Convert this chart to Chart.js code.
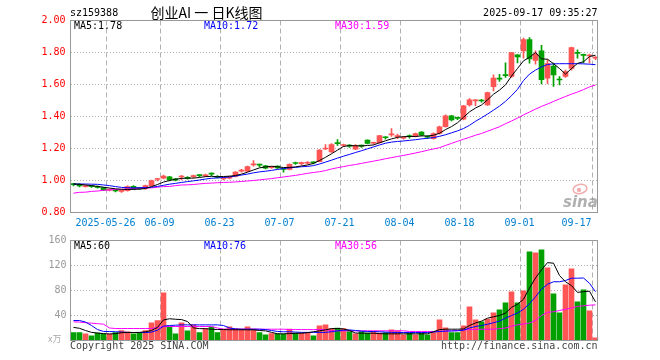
<!DOCTYPE html>
<html><head><meta charset="utf-8">
<script src="https://cdn.jsdelivr.net/npm/chart.js@4/dist/chart.umd.min.js"></script>
<style>
html,body{margin:0;padding:0;background:#fff;width:660px;height:360px;overflow:hidden}
#c1{position:absolute;left:0;top:0}
#c2{position:absolute;left:0;top:230px}
</style></head><body>
<canvas id="c1" width="660" height="230"></canvas>
<canvas id="c2" width="660" height="130"></canvas>
<script>
// ---------- data ----------
const dates = [
'2025-05-16','2025-05-19','2025-05-20','2025-05-21','2025-05-22','2025-05-23',
'2025-05-26','2025-05-27','2025-05-28','2025-05-29','2025-05-30',
'2025-06-03','2025-06-04','2025-06-05','2025-06-06',
'2025-06-09','2025-06-10','2025-06-11','2025-06-12','2025-06-13',
'2025-06-16','2025-06-17','2025-06-18','2025-06-19','2025-06-20',
'2025-06-23','2025-06-24','2025-06-25','2025-06-26','2025-06-27',
'2025-06-30','2025-07-01','2025-07-02','2025-07-03','2025-07-04',
'2025-07-07','2025-07-08','2025-07-09','2025-07-10','2025-07-11',
'2025-07-14','2025-07-15','2025-07-16','2025-07-17','2025-07-18',
'2025-07-21','2025-07-22','2025-07-23','2025-07-24','2025-07-25',
'2025-07-28','2025-07-29','2025-07-30','2025-07-31','2025-08-01',
'2025-08-04','2025-08-05','2025-08-06','2025-08-07','2025-08-08',
'2025-08-11','2025-08-12','2025-08-13','2025-08-14','2025-08-15',
'2025-08-18','2025-08-19','2025-08-20','2025-08-21','2025-08-22',
'2025-08-25','2025-08-26','2025-08-27','2025-08-28','2025-08-29',
'2025-09-01','2025-09-02','2025-09-03','2025-09-04','2025-09-05',
'2025-09-08','2025-09-09','2025-09-10','2025-09-11','2025-09-12',
'2025-09-15','2025-09-16','2025-09-17'];

const xTickDates  = ['2025-05-26','2025-06-09','2025-06-23','2025-07-07','2025-07-21','2025-08-04','2025-08-18','2025-09-01','2025-09-17'];
const xTickLabels = ['2025-05-26','06-09','06-23','07-07','07-21','08-04','08-18','09-01','09-17'];

const openP = [
.976,.975,.962,.964,.962,.955,.940,.937,.932,.937,
.963,.953,.952,.968,1.006,1.014,1.023,1.010,1.022,1.020,
1.024,1.032,1.028,1.043,1.026,1.010,1.014,1.025,1.059,1.058,
1.098,1.099,1.091,1.080,1.090,1.072,1.070,1.108,1.105,1.108,
1.113,1.118,1.197,1.179,1.233,1.219,1.218,1.196,1.218,1.252,
1.233,1.237,1.270,1.285,1.274,1.264,1.278,1.276,1.302,1.274,
1.262,1.295,1.337,1.404,1.392,1.383,1.473,1.498,1.500,1.473,
1.587,1.637,1.660,1.650,1.785,1.810,1.880,1.750,1.810,1.640,
1.715,1.632,1.650,1.700,1.800,1.786,1.778,1.765];
const closeP = [
.974,.966,.968,.962,.956,.940,.942,.935,.934,.962,
.946,.951,.968,1.000,1.009,1.028,1.005,1.002,1.025,1.013,
1.031,1.030,1.036,1.040,1.020,1.013,1.025,1.052,1.063,1.087,
1.102,1.096,1.077,1.083,1.078,1.069,1.101,1.106,1.108,1.111,
1.110,1.190,1.200,1.225,1.230,1.222,1.215,1.220,1.215,1.231,
1.236,1.280,1.267,1.288,1.277,1.269,1.275,1.293,1.283,1.271,
1.293,1.335,1.404,1.378,1.388,1.467,1.504,1.502,1.497,1.550,
1.640,1.634,1.655,1.800,1.772,1.880,1.760,1.790,1.630,1.730,
1.660,1.628,1.680,1.830,1.795,1.782,1.782,1.769];
const highP = [
.982,.980,.972,.968,.966,.958,.947,.941,.938,.966,
.968,.957,.971,1.003,1.013,1.034,1.026,1.013,1.032,1.024,
1.034,1.036,1.040,1.048,1.030,1.018,1.028,1.055,1.070,1.090,
1.125,1.102,1.095,1.088,1.092,1.076,1.104,1.115,1.115,1.118,
1.117,1.193,1.225,1.230,1.255,1.228,1.224,1.224,1.222,1.254,
1.240,1.283,1.275,1.325,1.290,1.274,1.285,1.297,1.306,1.279,
1.298,1.340,1.410,1.408,1.397,1.470,1.512,1.506,1.507,1.553,
1.660,1.664,1.735,1.800,1.787,1.890,1.893,1.810,1.845,1.755,
1.734,1.650,1.690,1.834,1.817,1.790,1.790,1.775];
const lowP = [
.966,.960,.958,.956,.952,.936,.935,.928,.926,.934,
.942,.944,.945,.966,.998,1.010,.998,.998,1.003,1.008,
1.016,1.022,1.024,1.030,1.016,1.004,1.010,1.022,1.052,1.055,
1.090,1.085,1.072,1.075,1.074,1.052,1.066,1.100,1.098,1.102,
1.104,1.116,1.193,1.175,1.220,1.212,1.206,1.192,1.206,1.228,
1.226,1.234,1.258,1.275,1.262,1.258,1.265,1.272,1.278,1.262,
1.258,1.290,1.333,1.372,1.380,1.378,1.465,1.468,1.490,1.470,
1.560,1.620,1.645,1.645,1.735,1.765,1.734,1.727,1.604,1.605,
1.588,1.598,1.645,1.690,1.765,1.735,1.735,1.755];

const ma5 = [
.978,.976,.972,.968,.963,.958,.953,.948,.945,.944,
.945,.946,.950,.962,.975,.990,1.000,1.008,1.013,1.015,
1.015,1.019,1.024,1.026,1.024,1.025,1.027,1.031,1.040,1.052,
1.066,1.079,1.085,1.089,1.086,1.081,1.082,1.085,1.091,1.097,
1.107,1.125,1.145,1.167,1.190,1.213,1.218,1.217,1.216,1.219,
1.222,1.236,1.248,1.260,1.270,1.274,1.275,1.275,1.279,1.278,
1.283,1.295,1.318,1.337,1.361,1.395,1.429,1.453,1.472,1.504,
1.539,1.565,1.598,1.653,1.700,1.748,1.770,1.800,1.760,1.758,
1.730,1.700,1.665,1.700,1.732,1.742,1.775,1.783];
const ma10 = [
.978,.978,.978,.977,.976,.972,.968,.962,.957,.955,
.954,.954,.956,.958,.963,.970,.977,.982,.988,.993,
.998,1.003,1.009,1.014,1.016,1.019,1.022,1.028,1.034,1.040,
1.048,1.054,1.058,1.063,1.069,1.075,1.079,1.082,1.086,1.088,
1.093,1.103,1.115,1.127,1.140,1.152,1.163,1.175,1.186,1.198,
1.210,1.222,1.233,1.240,1.244,1.247,1.251,1.255,1.260,1.264,
1.268,1.276,1.286,1.298,1.310,1.325,1.345,1.370,1.392,1.415,
1.440,1.465,1.495,1.530,1.570,1.625,1.665,1.690,1.710,1.725,
1.729,1.730,1.730,1.730,1.730,1.729,1.727,1.724];
const ma30 = [
.921,.926,.927,.932,.934,.939,.941,.944,.945,.946,
.949,.952,.953,.954,.958,.962,.963,.968,.972,.973,
.975,.979,.982,.984,.986,.988,.989,.991,.994,.997,
1.000,1.004,1.008,1.012,1.017,1.022,1.027,1.032,1.038,1.045,
1.050,1.055,1.062,1.072,1.080,1.087,1.094,1.100,1.107,1.114,
1.121,1.128,1.136,1.143,1.150,1.157,1.164,1.172,1.180,1.189,
1.197,1.205,1.219,1.232,1.245,1.258,1.270,1.283,1.294,1.308,
1.322,1.336,1.355,1.372,1.390,1.410,1.428,1.446,1.463,1.478,
1.494,1.510,1.525,1.540,1.553,1.568,1.585,1.597];

const volume = [
12.8,12.8,10.7,7.5,11.7,10.1,10.1,12.8,16,13.9,
10.7,11.7,16,28.3,32,76.3,21.3,10.7,28.3,15.5,
25,12.8,19.2,21.3,12.8,18.1,21.9,19.2,18.1,21.9,
18.1,12.8,9.1,11.2,10.7,10.1,18.1,11.7,11.7,11.7,
7.5,23.5,25,19.2,19.7,19.2,14.4,10.7,14.4,11.7,
14.4,11.7,12.8,17.1,15.5,9.1,11.7,9.1,11.7,9.1,
12.8,33,20.3,12.8,12.8,23.5,53.9,33,29.9,34.1,
44.3,49,60.3,77.9,60.3,79.5,141.9,140.3,145,116.3,
74.7,44.3,89,114.7,61.9,81,47.5,4.3];
const volMa5 = [
21,19.5,16,13,12,11,10.5,11,12.5,12.8,
12.8,13,14,16,21,32.9,34.8,34,33.5,30.4,
20.2,19,19,18,17.6,17.5,17.2,17.2,17.2,17.1,
17.1,16,15.5,13,10.7,10.7,11,11.5,11.7,12.5,
14,15.5,17,19,19.2,18.5,16,12,11.7,11.7,
11.7,11,10.7,10.7,10.7,10.7,10.7,10.7,10.7,10.7,
14,17.5,18.1,18.1,18.1,18.5,24,28,31,35.7,
38,40,44,53,58,66,84,100,113,124.6,
123.7,104,94,87.8,77,78.2,78.8,61.9];
const volMa10 = [
32,32,29.5,24,17.5,14.5,14.4,14,13.5,13,
12.8,12.8,12.8,13.5,16.5,23,24,24.5,25,25,
25,25,25,25,25,24,20,18.5,18.1,18.1,
18.1,18.1,17.5,16,14.5,14,14,13.5,13,13,
13,13,13,14,15.5,16.5,17,16,15,14.5,
14.4,14,13.5,13,12.8,12.8,12.8,12.8,12.8,12.8,
13.5,14.4,15,15.3,15.5,16.5,20,22.4,24,26,
28.5,31,35.7,40,44,50,59,70,82,90,
94,94,96,99.7,99.7,100,91.5,78];
const volMa30 = [
29.9,29.5,28.5,27.7,27,26.1,20,19.2,19.2,19.2,
19.2,19.2,19.2,19.2,21,22.4,22.4,22.4,22.4,22.4,
22.4,22.4,22.4,22.4,20,18.1,18.1,18.1,18.1,18.1,
18.1,18.1,18.1,18.1,18.1,18.1,17.5,17.5,17.5,17.5,
17.5,17.5,17.5,15.5,15.5,15.5,15.5,15.5,15.5,15.5,
15.5,15.5,15.5,15.5,15.5,15.5,14.5,14.5,14.5,14.5,
14.5,14.5,15,15.5,16,17,17.5,17.8,18,18,
18.2,19,20,23,25,26.5,28,32,40,45,
46,48,50,52,54.5,55.5,56.5,57];

// ---------- styles ----------
const UP = '#ff5555', DOWN = '#00a000';
const MONO = 'DejaVu Sans Mono';
const GRID = '#b0b0b0';
const colors = closeP.map((c, i) => c >= openP[i] ? UP : DOWN);
const gridIdx = xTickDates.map(d => dates.indexOf(d));
Chart.defaults.font.family = MONO;
Chart.defaults.font.size = 10;

function xScale(showLabels, h) {
  return {
    type: 'category', offset: true,
    grid: { offset: true, drawTicks: false,
      color: c => gridIdx.includes(c.index) ? GRID : 'rgba(0,0,0,0)' },
    border: { display: false, dash: [5, 3] },
    ticks: { display: showLabels, autoSkip: false, maxRotation: 0, minRotation: 0,
      labelOffset: -4, padding: 5, color: '#0080d0', font: { family: MONO, size: 10 },
      callback: (v, i) => { const k = gridIdx.indexOf(i); if (k < 0) return '';
        return xTickLabels[k] + (i === dates.length - 1 ? '     ' : ''); } },
    afterFit: s => { s.height = h; }
  };
}

const textPlugin1 = {
  id: 'txt1',
  afterDraw(chart) {
    const ctx = chart.ctx;
    ctx.save();
    ctx.strokeStyle = '#999'; ctx.lineWidth = 1; ctx.setLineDash([]);
    ctx.strokeRect(70.5, 20.5, 527, 192);
    ctx.textBaseline = 'middle';
    ctx.font = '10px "' + MONO + '"';
    ctx.fillStyle = '#000'; ctx.textAlign = 'left';
    ctx.fillText('sz159388', 70, 13.5);
    ctx.textAlign = 'right';
    ctx.fillText('2025-09-17 09:35:27', 597.5, 13.5);
    ctx.textAlign = 'left';
    ctx.fillStyle = '#000'; ctx.fillText('MA5:1.78', 74, 26.5);
    ctx.fillStyle = '#0000ff'; ctx.fillText('MA10:1.72', 204, 26.5);
    ctx.fillStyle = '#ff00ff'; ctx.fillText('MA30:1.59', 335, 26.5);
    ctx.font = '14px "Noto Sans CJK SC"'; ctx.fillStyle = '#000'; ctx.textAlign = 'center';
    ctx.fillText('创业AI 一 日K线图', 206.5, 12.5);
    // sina watermark
    ctx.strokeStyle = 'rgba(235,140,140,0.7)'; ctx.lineWidth = 1.5;
    ctx.beginPath(); ctx.ellipse(580, 189, 7, 4.5, -0.2, 0, Math.PI * 2); ctx.stroke();
    ctx.fillStyle = 'rgba(235,140,140,0.7)';
    ctx.beginPath(); ctx.arc(579, 190, 2.2, 0, Math.PI * 2); ctx.fill();
    ctx.font = 'italic bold 15px "DejaVu Sans"'; ctx.fillStyle = 'rgba(150,150,150,0.75)';
    ctx.textAlign = 'left'; ctx.textBaseline = 'alphabetic';
    ctx.fillText('sina', 563, 207);
    ctx.restore();
  }
};
const textPlugin2 = {
  id: 'txt2',
  afterDraw(chart) {
    const ctx = chart.ctx;
    ctx.save();
    ctx.strokeStyle = '#999'; ctx.lineWidth = 1; ctx.setLineDash([]);
    ctx.strokeRect(70.5, 10.5, 527, 100);
    ctx.textBaseline = 'middle';
    ctx.font = '10px "' + MONO + '"';
    ctx.textAlign = 'left';
    ctx.fillStyle = '#000'; ctx.fillText('MA5:60', 74, 16.5);
    ctx.fillStyle = '#0000ff'; ctx.fillText('MA10:76', 204, 16.5);
    ctx.fillStyle = '#ff00ff'; ctx.fillText('MA30:56', 335, 16.5);
    ctx.fillStyle = '#444';
    ctx.fillText('Copyright 2025 SINA.COM', 70, 116);
    ctx.textAlign = 'right';
    ctx.fillText('http://finance.sina.com.cn', 597.5, 116);
    ctx.textAlign = 'left'; ctx.fillStyle = '#aaa';
    ctx.font = '9px "Noto Sans CJK SC"';
    ctx.fillText('x万', 48, 108.5);
    ctx.restore();
  }
};

function lineDs(data, color) {
  return { type: 'line', data, borderColor: color, borderWidth: 1, pointRadius: 0,
    tension: 0, order: 0, fill: false };
}

new Chart(document.getElementById('c1'), {
  type: 'bar',
  data: {
    labels: dates,
    datasets: [
      { data: lowP.map((l, i) => [l, highP[i]]), backgroundColor: colors, barThickness: 1,
        grouped: false, borderWidth: 0, order: 2 },
      { data: openP.map((o, i) => [Math.min(o, closeP[i]), Math.max(o, closeP[i])]),
        backgroundColor: colors, barThickness: 5, grouped: false, minBarLength: 1,
        borderWidth: 0, order: 1 },
      lineDs(ma5, '#000000'),
      lineDs(ma10, '#0000ff'),
      lineDs(ma30, '#ff00ff')
    ]
  },
  options: {
    responsive: false, animation: false, devicePixelRatio: 1,
    layout: { padding: { left: 0, right: 61.5, top: 20.5, bottom: 0 } },
    plugins: { legend: { display: false }, tooltip: { enabled: false } },
    scales: {
      x: xScale(true, 17.5),
      y: { min: 0.8, max: 2.0,
        ticks: { stepSize: 0.2, color: '#ff0000', padding: 5, font: { family: MONO, size: 10 },
          callback: v => Number(v).toFixed(2) },
        grid: { drawTicks: false,
          color: c => (c.tick && c.tick.value > 0.81 && c.tick.value < 1.99) ? GRID : 'rgba(0,0,0,0)' },
        border: { display: false, dash: [1, 2] },
        afterFit: s => { s.width = 70.5; } }
    }
  },
  plugins: [textPlugin1]
});

new Chart(document.getElementById('c2'), {
  type: 'bar',
  data: {
    labels: dates,
    datasets: [
      { data: volume, backgroundColor: colors, barThickness: 5, borderWidth: 0, order: 1 },
      lineDs(volMa5, '#000000'),
      lineDs(volMa10, '#0000ff'),
      lineDs(volMa30, '#ff00ff')
    ]
  },
  options: {
    responsive: false, animation: false, devicePixelRatio: 1,
    layout: { padding: { left: 0, right: 61.5, top: 10.5, bottom: 0 } },
    plugins: { legend: { display: false }, tooltip: { enabled: false } },
    scales: {
      x: xScale(false, 19.5),
      y: { min: 0, max: 160,
        ticks: { stepSize: 40, color: '#999', padding: 4, font: { family: MONO, size: 10 },
          callback: v => v === 0 ? '' : String(v) },
        grid: { drawTicks: false,
          color: c => (c.tick && c.tick.value > 0 && c.tick.value < 160) ? GRID : 'rgba(0,0,0,0)' },
        border: { display: false, dash: [1, 2] },
        afterFit: s => { s.width = 70.5; } }
    }
  },
  plugins: [textPlugin2]
});
</script>
</body></html>
